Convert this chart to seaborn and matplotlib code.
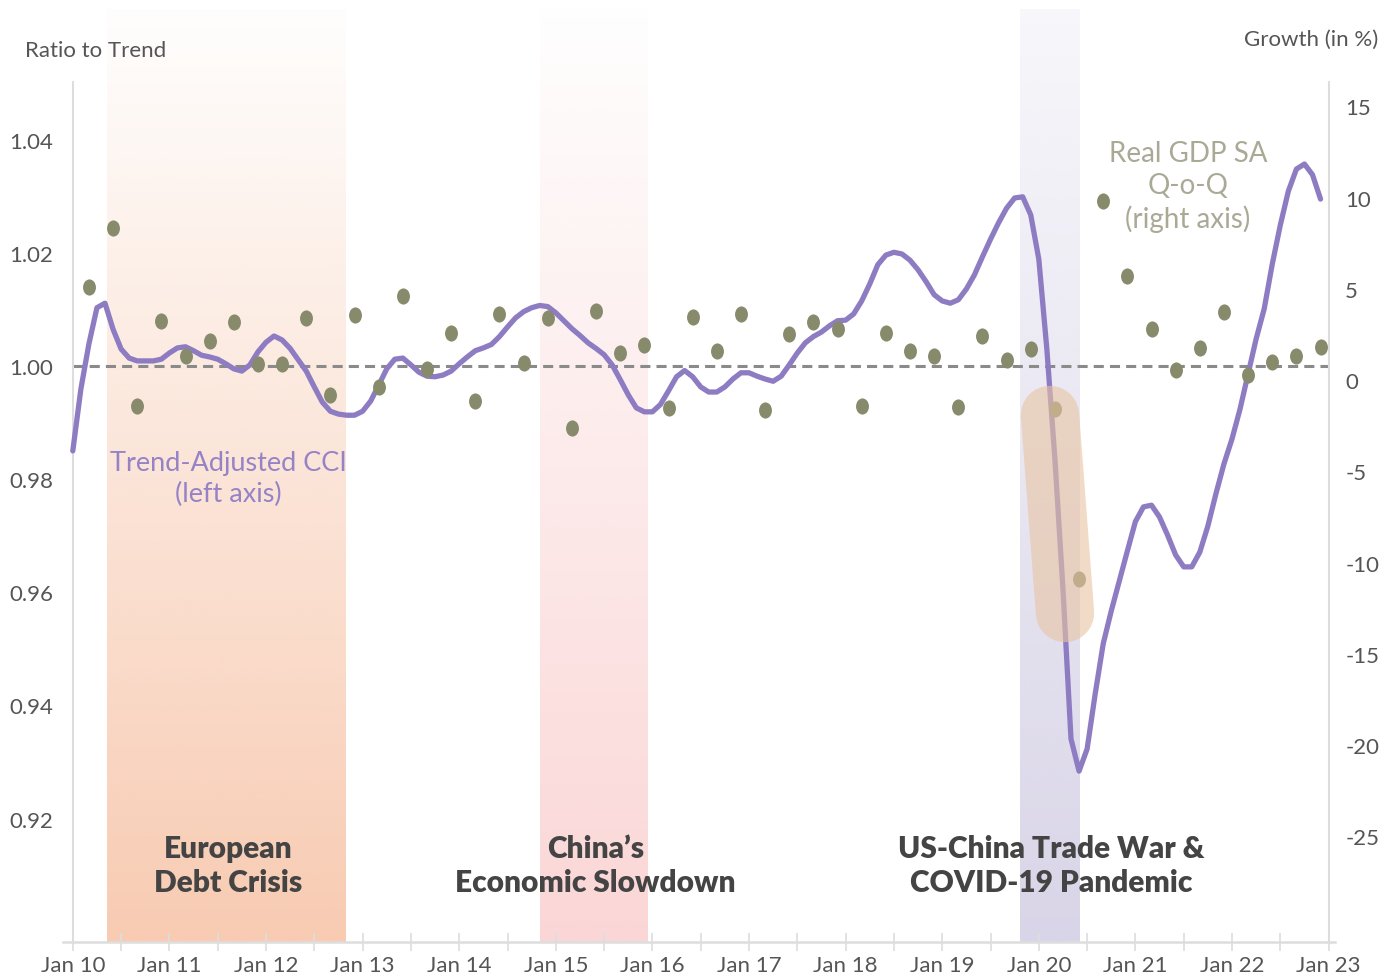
import numpy as np
import pandas as pd
import seaborn as sns
import matplotlib
matplotlib.use("Agg")
import matplotlib.pyplot as plt
from matplotlib.path import Path
from matplotlib.transforms import Affine2D

# ---------------- data ----------------
# Trend-adjusted CCI, monthly Jan 2010 .. Dec 2022 (ratio to trend)
cci = [
    0.9850, 0.9959, 1.0039, 1.0103, 1.0111, 1.0065, 1.0030, 1.0014, 1.0009, 1.0009, 1.0009, 1.0012,  # 2010
    1.0023, 1.0032, 1.0034, 1.0027, 1.0019, 1.0016, 1.0012, 1.0004, 0.9995, 0.9991, 1.0002, 1.0025,  # 2011
    1.0042, 1.0053, 1.0046, 1.0031, 1.0011, 0.9991, 0.9963, 0.9936, 0.9920, 0.9915, 0.9913, 0.9913,  # 2012
    0.9920, 0.9938, 0.9966, 0.9995, 1.0012, 1.0014, 1.0002, 0.9989, 0.9982, 0.9981, 0.9984, 0.9991,  # 2013
    1.0004, 1.0016, 1.0027, 1.0032, 1.0038, 1.0052, 1.0069, 1.0085, 1.0096, 1.0103, 1.0107, 1.0105,  # 2014
    1.0094, 1.0080, 1.0066, 1.0054, 1.0041, 1.0031, 1.0020, 1.0002, 0.9976, 0.9949, 0.9926, 0.9919,  # 2015
    0.9919, 0.9932, 0.9956, 0.9981, 0.9992, 0.9981, 0.9963, 0.9954, 0.9954, 0.9963, 0.9977, 0.9988,  # 2016
    0.9988, 0.9982, 0.9977, 0.9973, 0.9982, 1.0002, 1.0023, 1.0041, 1.0052, 1.0060, 1.0071, 1.0080,  # 2017
    1.0081, 1.0092, 1.0115, 1.0145, 1.0179, 1.0196, 1.0201, 1.0198, 1.0187, 1.0170, 1.0149, 1.0126,  # 2018
    1.0115, 1.0111, 1.0117, 1.0136, 1.0161, 1.0193, 1.0224, 1.0253, 1.0279, 1.0297, 1.0299, 1.0267,  # 2019
    1.0189, 1.0030, 0.9836, 0.9606, 0.9341, 0.9284, 0.9323, 0.9420, 0.9509, 0.9567, 0.9620, 0.9673,  # 2020
    0.9725, 0.9751, 0.9754, 0.9733, 0.9701, 0.9666, 0.9645, 0.9645, 0.9671, 0.9717, 0.9774, 0.9827,  # 2021
    0.9871, 0.9924, 0.9986, 1.0048, 1.0101, 1.0180, 1.0249, 1.0309, 1.0348, 1.0357, 1.0338, 1.0295,  # 2022
]

# Real GDP SA Q-o-Q growth (%), quarterly 2010Q1 .. 2022Q4
gdp = [
    5.10, 8.33, -1.42, 3.23,    # 2010
    1.32, 2.14, 3.18, 0.88,     # 2011
    0.88, 3.40, -0.82, 3.56,    # 2012
    -0.38, 4.60, 0.60, 2.58,    # 2013
    -1.15, 3.62, 0.93, 3.40,    # 2014
    -2.63, 3.78, 1.48, 1.92,    # 2015
    -1.53, 3.45, 1.59, 3.62,    # 2016
    -1.64, 2.52, 3.18, 2.79,    # 2017
    -1.42, 2.58, 1.59, 1.32,    # 2018
    -1.48, 2.41, 1.10, 1.70,    # 2019
    -1.59, -10.90, 9.81, 5.70,  # 2020
    2.79, 0.55, 1.75, 3.73,     # 2021
    0.27, 0.99, 1.32, 1.81,     # 2022
]

year_labels = ["Jan 10", "Jan 11", "Jan 12", "Jan 13", "Jan 14", "Jan 15", "Jan 16",
               "Jan 17", "Jan 18", "Jan 19", "Jan 20", "Jan 21", "Jan 22", "Jan 23"]
left_ticks = [0.92, 0.94, 0.96, 0.98, 1.00, 1.02, 1.04]
right_ticks = [-25, -20, -15, -10, -5, 0, 5, 10, 15]

# shaded periods: label, start month, end month (months since Jan 2010), colour
period_labels = ["European\nDebt Crisis", "China\u2019s\nEconomic Slowdown",
                 "US-China Trade War &\nCOVID-19 Pandemic"]
period_start = [4.25, 58.0, 117.7]
period_end = [33.9, 71.3, 125.1]
period_colors = ["#F8CBB2", "#FBD6D6", "#D9D5E8"]
period_alpha_top = [0.02, 0.02, 0.2]
period_label_x = [19.3, 64.9, 121.6]

# ---------------- figure ----------------
W, H = 1395, 978
sns.set_theme(style="white")
plt.rcParams['font.family'] = ['Lato', 'DejaVu Sans']

fig = plt.figure(figsize=(W / 100, H / 100), dpi=100)
ax_l, ax_r, ax_t, ax_b = 63, 1335, 10, 943
ax = fig.add_axes([ax_l / W, 1 - ax_b / H, (ax_r - ax_l) / W, (ax_b - ax_t) / H])

px_per_month = 8.05
x0_px = 72.8
xlim = ((ax_l - x0_px) / px_per_month, (ax_r - x0_px) / px_per_month)

def left_val(ypx):
    return 1.0 + (367.0 - ypx) / 5658.0

def right_val(ypx):
    return (381.0 - ypx) / 18.25

ylim_l = (left_val(ax_b), left_val(ax_t))
ylim_r = (right_val(ax_b), right_val(ax_t))

ax.set_xlim(*xlim)
ax.set_ylim(*ylim_l)

# gradient bands
N = 256
for s, e, c, at in zip(period_start, period_end, period_colors, period_alpha_top):
    rgb = matplotlib.colors.to_rgb(c)
    img = np.zeros((N, 2, 4))
    img[..., 0], img[..., 1], img[..., 2] = rgb
    img[..., 3] = np.linspace(at, 1.0, N)[:, None]
    ax.imshow(img, extent=[s, e, ylim_l[0], ylim_l[1]], aspect='auto',
              origin='upper', zorder=0, interpolation='bilinear')
ax.set_xlim(*xlim)
ax.set_ylim(*ylim_l)

# zero / 1.00 reference line
ax.hlines(1.0, 0, 156, colors="#8a8a8a", linestyles=(0, (3.3, 2.0)), lw=2.2, zorder=1)

months = np.arange(len(cci))
df_cci = pd.DataFrame({"month": months, "cci": cci})
sns.lineplot(data=df_cci, x="month", y="cci", ax=ax, color="#8E7CC3", lw=3.8, zorder=3)

# right axis
ax2 = ax.twinx()
ax2.set_ylim(*ylim_r)
gdp_months = np.arange(2, 156, 3)[:len(gdp)]
df_gdp = pd.DataFrame({"month": gdp_months, "gdp": gdp})
ellipse = Path.unit_circle().transformed(Affine2D().scale(0.8, 1.0))
sns.scatterplot(data=df_gdp, x="month", y="gdp", ax=ax2, color="#878B6C",
                marker=ellipse, s=135, linewidth=0, zorder=3)
ax2.set_xlim(*xlim)

# highlight capsule around the COVID GDP drop
cap_x = [(1050 - x0_px) / px_per_month, (1065 - x0_px) / px_per_month]
cap_y = [right_val(416), right_val(614)]
ax2.plot(cap_x, cap_y, lw=42, solid_capstyle='round', color="#E8C4A2",
         alpha=0.6, zorder=4)

# ---------------- axes styling ----------------
spine_col = "#DDDDDD"
for a in (ax, ax2):
    a.set_xlabel("")
    a.set_ylabel("")
    a.spines['top'].set_visible(False)

ax.spines['right'].set_visible(False)
ax.spines['left'].set_position(('data', 0))
ax.spines['left'].set_bounds(left_val(ax_b), left_val(83))
ax.spines['left'].set_color(spine_col)
ax.spines['left'].set_linewidth(1.5)
ax.spines['bottom'].set_color(spine_col)
ax.spines['bottom'].set_linewidth(1.8)

ax2.spines['left'].set_visible(False)
ax2.spines['bottom'].set_visible(False)
ax2.spines['right'].set_position(('data', 156))
ax2.spines['right'].set_bounds(right_val(ax_b), right_val(83))
ax2.spines['right'].set_color(spine_col)
ax2.spines['right'].set_linewidth(1.5)

ax.set_yticks(left_ticks)
ax.set_yticklabels([f"{v:.2f}" for v in left_ticks])
ax.tick_params(axis='y', length=0, pad=14, labelsize=16, labelcolor="#555555")
ax2.set_yticks(right_ticks)
ax2.set_yticklabels([str(v) for v in right_ticks])
ax2.tick_params(axis='y', length=0, pad=12, labelsize=16, labelcolor="#555555")

ax.set_xticks(np.arange(0, 157, 12))
ax.set_xticklabels(year_labels)
ax.set_xticks(np.arange(6, 157, 12), minor=True)
ax.tick_params(axis='x', which='both', direction='inout', length=13, width=1.2,
               color=spine_col, bottom=True, pad=3, labelsize=16, labelcolor="#555555")
ax.tick_params(axis='x', which='minor', labelbottom=False)

# ---------------- texts ----------------
fig.text(25 / W, 1 - 51 / H, "Ratio to Trend", ha='left', va='center',
         fontsize=16, color="#555555")
fig.text(1378 / W, 1 - 40 / H, "Growth (in %)", ha='right', va='center',
         fontsize=16, color="#555555")
fig.text(228 / W, 1 - 479 / H, "Trend-Adjusted CCI\n(left axis)", ha='center', va='center',
         fontsize=19.5, color="#9683C6", linespacing=1.3)
fig.text(1188 / W, 1 - 187 / H, "Real GDP SA\nQ-o-Q\n(right axis)", ha='center', va='center',
         fontsize=20, color="#A9A996", linespacing=1.28)

for lbl, xm in zip(period_labels, period_label_x):
    ax.text(xm, left_val(866), lbl, ha='center', va='center', fontsize=21.5,
            fontweight='heavy', color="#444444", linespacing=1.28, zorder=6)

fig.savefig("out.png", dpi=100)
